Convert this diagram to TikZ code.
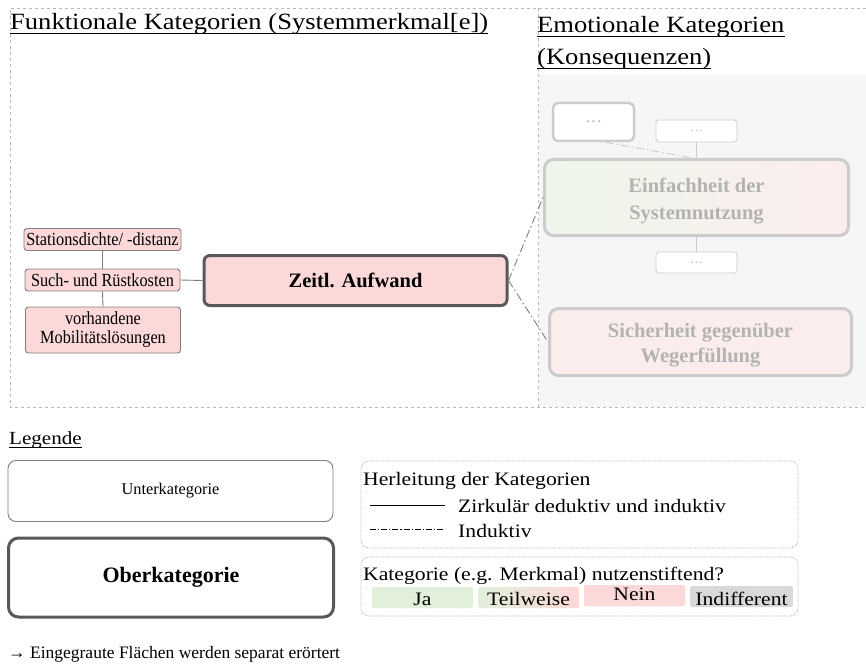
\documentclass[tikz,border=0pt]{standalone}
\usepackage{fontspec}
\setmainfont{Liberation Serif}
\newfontfamily\widefont[FakeStretch=1.14]{Liberation Serif}
\newfontfamily\condfont[FakeStretch=0.88]{Liberation Serif}
\definecolor{pinkfill}{HTML}{FDD8D8}
\definecolor{greenfill}{HTML}{E2EFDA}
\definecolor{greyfill}{HTML}{D9D9D9}
\definecolor{edgegrey}{HTML}{7F7F7F}
\definecolor{darkedge}{HTML}{595959}
\definecolor{fadeedge}{HTML}{CCCCCC}
\definecolor{fadetext}{HTML}{B3B3B3}
\definecolor{fadegreen}{HTML}{EEF6EB}
\definecolor{fadepink}{HTML}{FCEDED}
\definecolor{panelgrey}{HTML}{F6F6F6}
\tikzset{
  frame/.style={draw=gray!55, dashed, line width=0.6pt},
  heading/.style={anchor=base west, inner sep=0pt, font=\widefont\fontsize{23.3}{28}\selectfont},
  ulrule/.style={line width=0.8pt},
  subbox/.style={draw=edgegrey, line width=0.9pt, rounded corners=3pt, fill=pinkfill,
    inner sep=0pt, align=center, font=\condfont\fontsize{18.5}{19}\selectfont},
  mainbox/.style={draw=darkedge, line width=3pt, rounded corners=6pt, fill=pinkfill,
    inner sep=0pt, align=center, font=\bfseries\fontsize{20.5}{26}\selectfont},
  fadesmall/.style={draw=fadeedge, line width=0.8pt, rounded corners=3pt, fill=white,
    inner sep=0pt, text=fadetext, font=\fontsize{13}{14}\selectfont},
  fadethick/.style={draw=fadeedge, line width=2.5pt, rounded corners=5pt, fill=white,
    inner sep=0pt, text=fadetext, font=\fontsize{17}{18}\selectfont},
  fademain/.style={draw=fadeedge, line width=3pt, rounded corners=9pt,
    inner sep=0pt, text=fadetext, font=\bfseries\fontsize{20.5}{27}\selectfont},
  solidlink/.style={draw=edgegrey, line width=0.9pt},
  indlink/.style={draw=edgegrey, line width=0.9pt, dash pattern=on 8pt off 3pt on 1.5pt off 3pt},
  legtext/.style={anchor=base west, inner sep=0pt, font=\widefont\fontsize{19}{22}\selectfont},
  legbox/.style={draw=gray!70, densely dotted, line width=0.7pt, rounded corners=8pt},
  cell/.style={rounded corners=2pt, inner sep=0pt, minimum width=101pt, minimum height=21pt},
  celltext/.style={anchor=base, inner sep=0pt, font=\widefont\fontsize{19}{22}\selectfont},
}
\begin{document}
\begin{tikzpicture}[x=1pt,y=-1pt]
\useasboundingbox (0,0) rectangle (866,668);

% panels
\fill[panelgrey] (539,75) rectangle (866,406.5);
\draw[frame] (866,8) -- (10,8) -- (10,407) -- (866,407);
\draw[frame] (538,8) -- (538,407);

% panel headings
\node[heading] (hf) at (10,30) {Funktionale Kategorien (Systemmerkmal[e])};
\draw[ulrule] ([yshift=-3pt]hf.base west) -- ([yshift=-3pt]hf.base east);
\node[heading] (he1) at (537,33) {Emotionale Kategorien};
\draw[ulrule] ([yshift=-3pt]he1.base west) -- ([yshift=-3pt]he1.base east);
\node[heading] (he2) at (537,65) {(Konsequenzen)};
\draw[ulrule] ([yshift=-3pt]he2.base west) -- ([yshift=-3pt]he2.base east);

% functional categories
\node[subbox, minimum width=157pt, minimum height=22pt] (st) at (102.5,239.5) {Stationsdichte/ -distanz};
\node[subbox, minimum width=155pt, minimum height=22pt] (su) at (102.5,280) {Such- und Rüstkosten};
\node[subbox, minimum width=155pt, minimum height=46pt] (vm) at (103,330) {vorhandene\\Mobilitätslösungen};
\node[mainbox, minimum width=303pt, minimum height=50pt] (za) at (355.5,280.5) {Zeitl. Aufwand};
\draw[solidlink] (st.south) -- (su.north);
\draw[solidlink] (su.south) -- (vm.north);
\draw[solidlink] (su.east) -- (za.west);

% emotional categories (greyed out)
\node[fadethick, minimum width=81pt, minimum height=38pt] (d1) at (593.5,122) {\dots};
\node[fadesmall, minimum width=81pt, minimum height=22pt] (d2) at (696.5,131) {\dots};
\node[fademain, left color=fadegreen, right color=fadepink, minimum width=304pt, minimum height=76pt] (ei) at (696.5,197.5)
  {\parbox{300pt}{\centering\vspace*{7pt}Einfachheit der\\Systemnutzung}};
\node[fadesmall, minimum width=81pt, minimum height=21pt] (d3) at (696.5,262.5) {\dots};
\node[fademain, fill=fadepink, minimum width=302pt, minimum height=67pt, font=\bfseries\fontsize{20.5}{25}\selectfont] (si) at (700.5,342)
  {\parbox{298pt}{\centering\vspace*{7pt}Sicherheit gegenüber\\Wegerfüllung}};
\draw[draw=fadeedge, line width=0.8pt] (d2.south) -- (ei.north);
\draw[draw=fadeedge, line width=0.8pt] (ei.south) -- (d3.north);
\draw[indlink, draw=fadeedge] ([xshift=12pt]d1.south) -- ([xshift=-4pt]ei.north);

% links to the emotional categories
\draw[indlink] (za.east) -- (ei.west);
\draw[indlink] (za.east) -- (si.west);

% legend
\node[anchor=base west, inner sep=0pt, font=\widefont\fontsize{18.5}{21}\selectfont] (lg) at (9,444) {Legende};
\draw[line width=0.7pt] ([yshift=-3.5pt]lg.base west) -- ([yshift=-3.5pt]lg.base east);

\node[draw=edgegrey, line width=0.9pt, rounded corners=8pt, minimum width=325pt, minimum height=61pt,
  inner sep=0pt, font=\fontsize{16.3}{18}\selectfont] (uk) at (170.5,491) {Unterkategorie};
\node[draw=darkedge, line width=3pt, rounded corners=10pt, minimum width=325pt, minimum height=79pt,
  inner sep=0pt, font=\bfseries\fontsize{22}{25}\selectfont] (ok) at (171,577.5) {Oberkategorie};

\node[legbox, minimum width=437pt, minimum height=87pt, inner sep=0pt] (hk) at (579.5,504.5) {};
\node[legtext] (hkt) at (363,485) {Herleitung der Kategorien};
\coordinate (s1) at (370,505);
\coordinate (s2) at (445,505);
\coordinate (i1) at (370,529);
\coordinate (i2) at (445,529);
\draw[line width=0.7pt] (s1) -- (s2);
\draw[line width=0.7pt, dash pattern=on 6pt off 2pt on 1.2pt off 2pt] (i1) -- (i2);
\node[legtext] (zk) at (458,512) {Zirkulär deduktiv und induktiv};
\node[legtext] (in) at (458,537) {Induktiv};

\node[legbox, minimum width=437pt, minimum height=59pt, inner sep=0pt] (nk) at (579.5,586.5) {};
\node[legtext] (nkt) at (363,580) {Kategorie (e.g. Merkmal) nutzenstiftend?};
\node[cell, fill=greenfill] (ja) at (422.5,597.5) {};
\node[cell, left color=greenfill, right color=pinkfill, shading angle=90] (tw) at (528.5,597.5) {};
\node[cell, fill=pinkfill] (ne) at (634.5,595.5) {};
\node[cell, fill=greyfill, minimum width=103pt] (id) at (741.5,596.5) {};
\node[celltext] at (ja.center |- 0,605) {Ja};
\node[celltext] at (tw.center |- 0,605) {Teilweise};
\node[celltext] at (ne.center |- 0,600) {Nein};
\node[celltext] at (id.center |- 0,605) {Indifferent};

\node[anchor=base west, inner sep=0pt, font=\fontsize{17.5}{20}\selectfont] (note) at (8,658)
  {→ Eingegraute Flächen werden separat erörtert};
\end{tikzpicture}
\end{document}
